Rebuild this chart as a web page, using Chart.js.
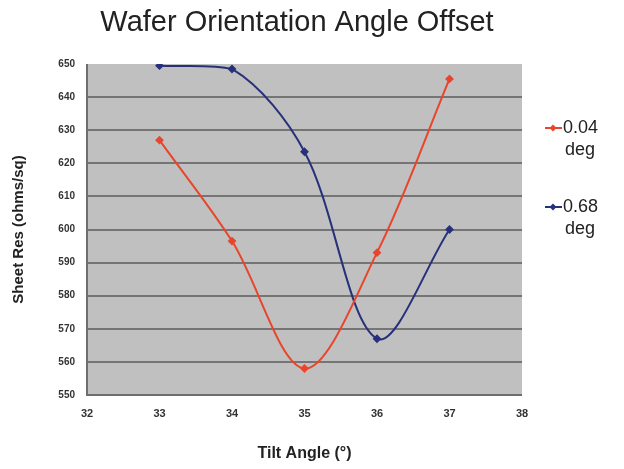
<!DOCTYPE html>
<html>
<head>
<meta charset="utf-8">
<script src="https://cdn.jsdelivr.net/npm/chart.js@4"></script>
<style>
  html, body { margin: 0; padding: 0; background: #fff; }
  #wrap { width: 624px; height: 469px; }
</style>
</head>
<body>
<div id="wrap"><canvas id="chart" width="624" height="469"></canvas></div>
<script>
// tilt angles (deg) and sheet resistance readings
const tiltAngles = [33, 34, 35, 36, 37];
const res004 = [627, 596.5, 558, 593, 645.5];
const res068 = [649.5, 648.5, 623.5, 567, 600];
const seriesNames = [["0.04", "deg"], ["0.68", "deg"]];
const seriesColors = ["#e8452c", "#27317a"];
const chartTitle = "Wafer Orientation Angle Offset";

const FONT = "'Liberation Sans', Arial, sans-serif";
const toPoints = vals => vals.map((v, i) => ({ x: tiltAngles[i], y: v }));

// grey plot background + left/bottom axis lines
const plotBg = {
  id: "plotBg",
  beforeDraw(chart) {
    const { ctx, chartArea: a } = chart;
    ctx.save();
    ctx.fillStyle = "#c0c0c0";
    ctx.fillRect(a.left, a.top, a.right - a.left, a.bottom - a.top);
    ctx.restore();
  },
  afterDatasetsDraw(chart) {
    const { ctx, chartArea: a } = chart;
    ctx.save();
    ctx.strokeStyle = "#6e6e6e";
    ctx.lineWidth = 2;
    ctx.beginPath();
    ctx.moveTo(a.left, a.top);
    ctx.lineTo(a.left, a.bottom);
    ctx.lineTo(a.right, a.bottom);
    ctx.stroke();
    ctx.restore();
  }
};

// title drawn by hand so it sits over the whole page, not the plot
const pageTitle = {
  id: "pageTitle",
  afterDraw(chart) {
    const { ctx } = chart;
    ctx.save();
    ctx.fillStyle = "#222";
    ctx.font = "29px " + FONT;
    ctx.textAlign = "center";
    ctx.textBaseline = "middle";
    ctx.fillText(chartTitle, 297, 23);
    ctx.restore();
  }
};

// two-line legend on the right, like the original
const sideLegend = {
  id: "sideLegend",
  afterDraw(chart) {
    const { ctx } = chart;
    const rows = [128, 207];
    ctx.save();
    chart.data.datasets.forEach((ds, i) => {
      const y = rows[i];
      ctx.strokeStyle = ds.borderColor;
      ctx.lineWidth = 2;
      ctx.beginPath();
      ctx.moveTo(545, y);
      ctx.lineTo(562, y);
      ctx.stroke();
      ctx.fillStyle = ds.borderColor;
      ctx.beginPath();
      ctx.moveTo(553, y - 3.5);
      ctx.lineTo(556.5, y);
      ctx.lineTo(553, y + 3.5);
      ctx.lineTo(549.5, y);
      ctx.closePath();
      ctx.fill();
      ctx.fillStyle = "#222";
      ctx.font = "18px " + FONT;
      ctx.textBaseline = "middle";
      ctx.fillText(seriesNames[i][0], 563, y);
      ctx.fillText(seriesNames[i][1], 565, y + 22);
    });
    ctx.restore();
  }
};

new Chart(document.getElementById("chart").getContext("2d"), {
  type: "line",
  data: {
    datasets: [
      {
        label: seriesNames[0].join(" "),
        data: toPoints(res004),
        borderColor: seriesColors[0],
        backgroundColor: seriesColors[0],
        borderWidth: 2,
        pointStyle: "rectRot",
        pointRadius: 3,
        tension: 0.33
      },
      {
        label: seriesNames[1].join(" "),
        data: toPoints(res068),
        borderColor: seriesColors[1],
        backgroundColor: seriesColors[1],
        borderWidth: 2,
        pointStyle: "rectRot",
        pointRadius: 3,
        tension: 0.33
      }
    ]
  },
  options: {
    responsive: false,
    animation: false,
    layout: { padding: { left: 6, right: 102, top: 64, bottom: 0 } },
    plugins: {
      legend: { display: false },
      tooltip: { enabled: false },
      title: { display: false }
    },
    scales: {
      x: {
        type: "linear",
        min: 32,
        max: 38,
        ticks: {
          stepSize: 1,
          color: "#333",
          padding: 4,
          font: { family: FONT, size: 11, weight: "bold" }
        },
        grid: { display: false },
        border: { display: false },
        title: {
          display: true,
          text: "Tilt Angle (°)",
          color: "#222",
          font: { family: FONT, size: 16, weight: "bold" },
          padding: { top: 14, bottom: 6 }
        },
        afterFit: s => { s.height = 74; }
      },
      y: {
        min: 550,
        max: 650,
        ticks: {
          stepSize: 10,
          color: "#333",
          padding: 12,
          font: { family: FONT, size: 10, weight: "bold" }
        },
        grid: {
          color: c => (c.tick && c.tick.value === 650 ? "rgba(0,0,0,0)" : "#757575"),
          lineWidth: 2,
          drawTicks: false
        },
        border: { display: false },
        title: {
          display: true,
          text: "Sheet Res (ohms/sq)",
          color: "#222",
          font: { family: FONT, size: 15, weight: "bold" },
          padding: { top: 4, bottom: 10 }
        },
        afterFit: s => { s.width = 81; }
      }
    }
  },
  plugins: [plotBg, pageTitle, sideLegend]
});
</script>
</body>
</html>
